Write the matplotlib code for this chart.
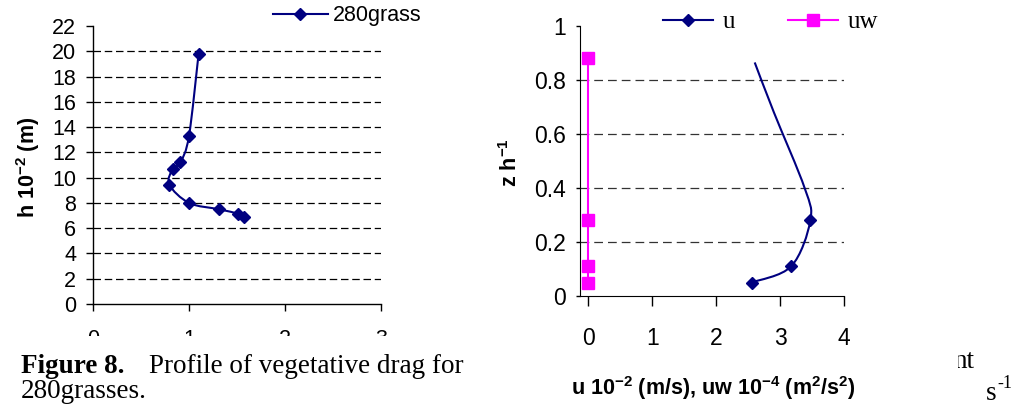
import matplotlib
matplotlib.use("Agg")
import matplotlib.pyplot as plt
from matplotlib.path import Path
from matplotlib.patches import PathPatch, Rectangle
from matplotlib.lines import Line2D

plt.rcParams['font.family'] = ['Liberation Sans', 'DejaVu Sans']
plt.rcParams['mathtext.fontset'] = 'custom'
plt.rcParams['mathtext.rm'] = 'Liberation Sans:bold'
plt.rcParams['mathtext.bf'] = 'Liberation Sans:bold'
plt.rcParams['mathtext.it'] = 'Liberation Sans:bold'

# ---------------- data ----------------
# left chart: vegetative drag profile (280grass)
drag_x = [1.10, 1.00, 0.91, 0.83, 0.795, 1.00, 1.31, 1.51, 1.57]
drag_h = [19.8, 13.3, 11.2, 10.7, 9.45, 8.0, 7.5, 7.15, 6.9]
left_yticks = [0, 2, 4, 6, 8, 10, 12, 14, 16, 18, 20, 22]
left_xticks = [0, 1, 2, 3]

# right chart: mean velocity u and stress uw vs z/h
u_val = [2.55, 3.17, 3.47, 3.38, 2.90, 2.60]
u_z = [0.05, 0.11, 0.28, 0.40, 0.68, 0.865]
u_marked = [0, 1, 2]
uw_val = [0.0, 0.0, 0.0, 0.0]
uw_z = [0.05, 0.11, 0.28, 0.88]
right_yticks = [0, 0.2, 0.4, 0.6, 0.8, 1]
right_ylabels = ['0', '0.2', '0.4', '0.6', '0.8', '1']
right_xticks = [0, 1, 2, 3, 4]

NAVY = '#000080'
MAGENTA = '#FF00FF'
W, H = 1012, 404


def smooth_path(xs, ys):
    """Excel-style smoothed line: cubic Bezier through the data points."""
    pts = list(zip(xs, ys))
    n = len(pts)
    verts = [pts[0]]
    codes = [Path.MOVETO]
    for i in range(n - 1):
        p0 = pts[i - 1] if i > 0 else pts[i]
        p1 = pts[i]
        p2 = pts[i + 1]
        p3 = pts[i + 2] if i + 2 < n else pts[i + 1]
        c1 = (p1[0] + (p2[0] - p0[0]) / 6.0, p1[1] + (p2[1] - p0[1]) / 6.0)
        c2 = (p2[0] - (p3[0] - p1[0]) / 6.0, p2[1] - (p3[1] - p1[1]) / 6.0)
        verts += [c1, c2, p2]
        codes += [Path.CURVE4] * 3
    return Path(verts, codes)


def fx(px):
    return px / W


def fy(py):
    return 1 - py / H


fig = plt.figure(figsize=(W / 100, H / 100), dpi=100)
fig.patch.set_facecolor('white')

# ---------------- left chart ----------------
axL = fig.add_axes([fx(93), fy(304), (381 - 93) / W, (304 - 26) / H], zorder=0)
axL.set_xlim(0, 3)
axL.set_ylim(0, 22)
axL.set_xticks(left_xticks)
axL.set_yticks(left_yticks)
for s in ['top', 'right']:
    axL.spines[s].set_visible(False)
axL.spines['left'].set_linewidth(1.0)
axL.spines['bottom'].set_linewidth(1.0)
axL.tick_params(axis='y', direction='out', length=5, width=1, pad=7, labelsize=15.5)
axL.tick_params(axis='x', direction='out', length=5, width=1, pad=13, labelsize=15.5)
axL.grid(axis='y', color='black', linestyle=(0, (6, 3)), linewidth=0.9)
gl = axL.get_ygridlines()
gl[0].set_visible(False)
gl[-1].set_visible(False)
axL.add_patch(PathPatch(smooth_path(drag_x, drag_h), facecolor='none',
                        edgecolor=NAVY, linewidth=1.5, zorder=3))
axL.plot(drag_x, drag_h, linestyle='none', marker='D', markersize=6.5,
         color=NAVY, zorder=4, clip_on=False)
axL.set_ylabel('h 10$^{-2}$ (m)', fontsize=15.5, fontweight='bold')
axL.yaxis.set_label_coords(fx(42), fy(167), transform=fig.transFigure)
hL = Line2D([], [], color=NAVY, marker='D', markersize=6.5, linewidth=1.5)
fig.legend([hL], ['280grass'], loc='center left',
           bbox_to_anchor=(fx(273), fy(16)), frameon=False, borderpad=0,
           borderaxespad=0, handlelength=2.55, handletextpad=0.25,
           prop={'family': 'Liberation Sans', 'size': 15.5})

# ---------------- caption of left figure (covers tick labels) ----------------
fig.add_artist(Rectangle((0, 0), 1, fy(336), transform=fig.transFigure,
                         facecolor='white', edgecolor='none', zorder=1))
fig.text(fx(21), fy(373), 'Figure 8.', fontsize=19.5, fontweight='bold',
         family='Liberation Serif', va='baseline', ha='left', zorder=1.1)
fig.text(fx(149), fy(373), 'Profile of vegetative drag for', fontsize=19.5,
         family='Liberation Serif', va='baseline', ha='left', zorder=1.1)
fig.text(fx(21), fy(398), '280grasses.', fontsize=19.5,
         family='Liberation Serif', va='baseline', ha='left', zorder=1.1)

# right-side caption fragments
fig.text(fx(953), fy(368), 'nt', fontsize=19.5, family='Liberation Serif',
         va='baseline', ha='left', zorder=1.1)
fig.text(fx(986), fy(400), 's', fontsize=19.5, family='Liberation Serif',
         va='baseline', ha='left', zorder=1.1)
fig.text(fx(997), fy(388), '-1', fontsize=13, family='Liberation Serif',
         va='baseline', ha='left', zorder=1.1)

# white background of right chart
fig.add_artist(Rectangle((fx(472), 0), fx(958) - fx(472), 1,
                         transform=fig.transFigure, facecolor='white',
                         edgecolor='none', zorder=2))

# ---------------- right chart ----------------
axR = fig.add_axes([fx(580), fy(296), (844.3 - 580) / W, (296 - 26) / H], zorder=3)
axR.patch.set_alpha(0)
axR.set_xlim(-0.13, 4)
axR.set_ylim(0, 1)
axR.set_xticks(right_xticks)
axR.set_yticks(right_yticks)
axR.set_yticklabels(right_ylabels)
for s in ['top', 'right']:
    axR.spines[s].set_visible(False)
axR.tick_params(axis='y', direction='out', length=3, width=1, pad=7, labelsize=16.5)
axR.tick_params(axis='x', direction='out', length=7, width=1, pad=15, labelsize=16.5)
axR.grid(axis='y', color='#333333', linestyle=(0, (7, 4)), linewidth=0.9)
gr = axR.get_ygridlines()
gr[0].set_visible(False)
gr[-1].set_visible(False)
axR.plot(uw_val, uw_z, color=MAGENTA, linewidth=1.5, marker='s',
         markersize=9, zorder=4, clip_on=False)
axR.add_patch(PathPatch(smooth_path(u_val, u_z), facecolor='none',
                        edgecolor=NAVY, linewidth=1.5, zorder=3))
axR.plot([u_val[i] for i in u_marked], [u_z[i] for i in u_marked],
         linestyle='none', marker='D', markersize=6.5, color=NAVY, zorder=4)
axR.set_ylabel('z h$^{-1}$', fontsize=15.5, fontweight='bold')
axR.yaxis.set_label_coords(fx(522), fy(163), transform=fig.transFigure)
axR.set_xlabel('u 10$^{-2}$ (m/s), uw 10$^{-4}$ (m$^{2}$/s$^{2}$)',
               fontsize=15.5, fontweight='bold')
axR.xaxis.set_label_coords(fx(713), fy(374), transform=fig.transFigure)
hu = Line2D([], [], color=NAVY, marker='D', markersize=6.5, linewidth=1.5)
huw = Line2D([], [], color=MAGENTA, marker='s', markersize=9, linewidth=1.5)
legR = fig.legend([hu, huw], ['u', 'uw'], loc='center left', ncol=2,
                  bbox_to_anchor=(fx(663), fy(22)), frameon=False, borderpad=0,
                  borderaxespad=0, handlelength=2.0, handletextpad=0.4,
                  columnspacing=2.1,
                  prop={'family': 'Liberation Serif', 'size': 18})
legR.set_zorder(4)

fig.savefig('out.png', dpi=100)
